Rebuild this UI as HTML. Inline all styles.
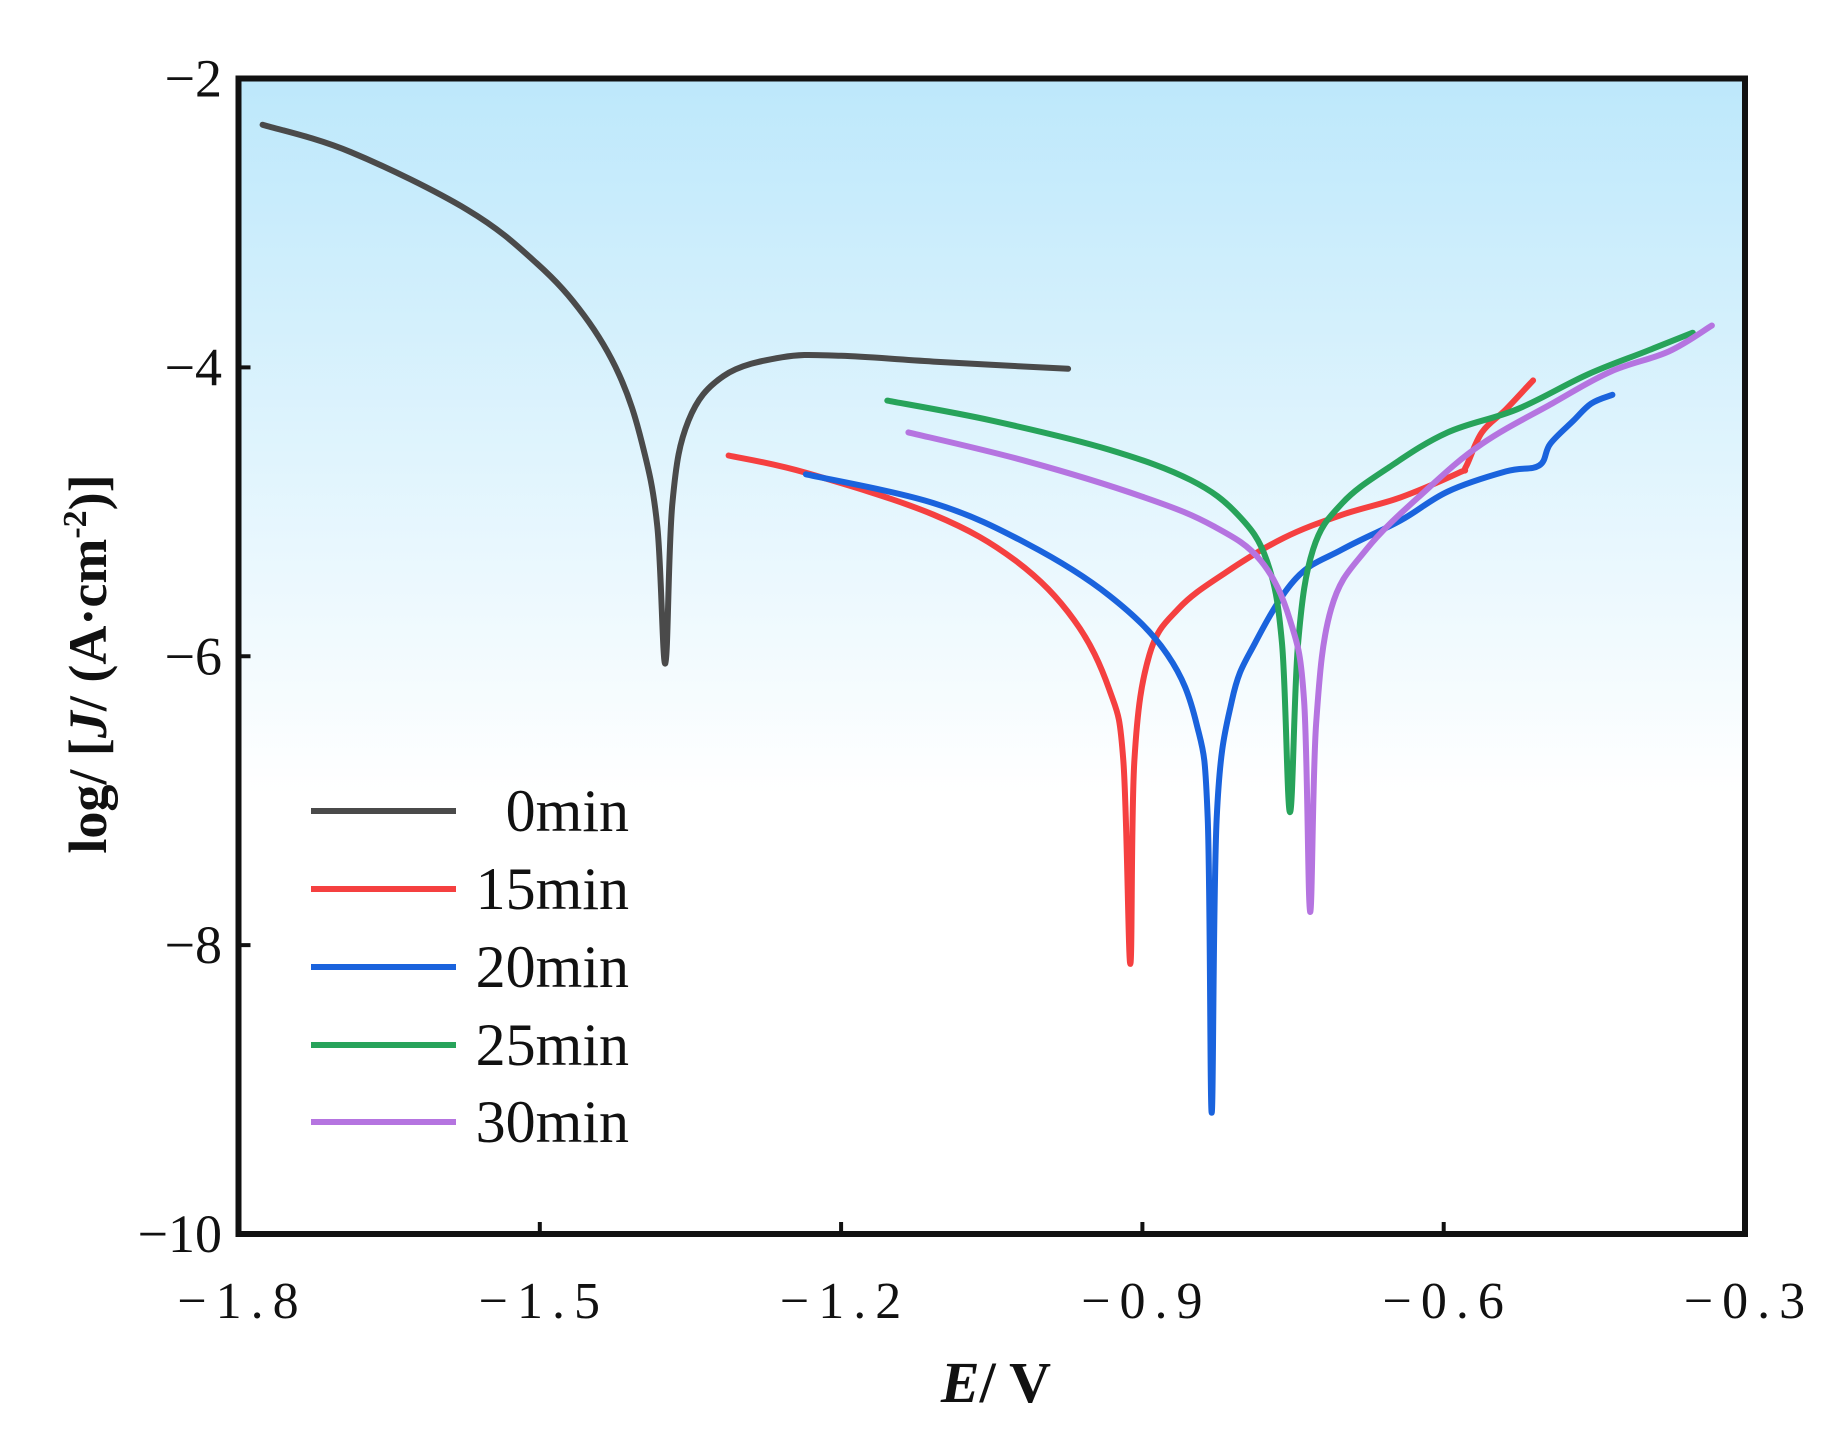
<!DOCTYPE html>
<html><head><meta charset="utf-8"><style>
html,body{margin:0;padding:0;background:#fff;}
svg{display:block;}
text{font-family:"Liberation Serif",serif;fill:#111;}
</style></head><body>
<svg id="chart" width="1833" height="1441" viewBox="0 0 1833 1441" xmlns="http://www.w3.org/2000/svg">
<defs><linearGradient id="bg" x1="0" y1="0" x2="0" y2="1">
<stop offset="0" stop-color="#bde8fb"/><stop offset="0.62" stop-color="#ffffff"/><stop offset="1" stop-color="#ffffff"/></linearGradient></defs>
<rect x="238.5" y="78.5" width="1506.5" height="1155.5" fill="url(#bg)"/>
<g id="series"></g>
<g id="axes"></g>
<rect x="238.5" y="78.5" width="1506.5" height="1155.5" fill="none" stroke="#111" stroke-width="6"/>
<text x="996" y="1402" font-size="58" font-weight="bold" text-anchor="middle"><tspan font-style="italic">E</tspan>/ V</text>
<text transform="translate(106,664) rotate(-90)" font-size="54" font-weight="bold" text-anchor="middle">log/ [<tspan font-style="italic">J</tspan>/ (A·cm<tspan font-size="34" dy="-20">-2</tspan><tspan dy="20">)]</tspan></text>
<g id="legend"></g>
</svg>
<script>
const xTicks=[-1.8,-1.5,-1.2,-0.9,-0.6,-0.3];
const xTickLabels=["−1.8","−1.5","−1.2","−0.9","−0.6","−0.3"];
const yTicks=[-2,-4,-6,-8,-10];
const yTickLabels=["−2","−4","−6","−8","−10"];
const seriesNames=["0min","15min","20min","25min","30min"];
const seriesColors=["#4a4a4a","#f54040","#1a63dd","#27a35a","#b574e0"];
const e0=[-1.776,-1.688,-1.572,-1.503,-1.456,-1.421,-1.398,-1.383,-1.375,-1.368,-1.352,-1.317,-1.259,-1.200,-1.108,-0.974];
const j0=[-2.32,-2.51,-2.91,-3.28,-3.64,-4.05,-4.53,-5.10,-6.05,-4.94,-4.37,-4.06,-3.93,-3.92,-3.96,-4.01];
const e15=[-1.312,-1.235,-1.108,-1.026,-0.968,-0.933,-0.919,-0.912,-0.908,-0.893,-0.864,-0.817,-0.759,-0.701,-0.643,-0.585,-0.578,-0.562,-0.538,-0.511];
const j15=[-4.61,-4.73,-5.02,-5.34,-5.75,-6.23,-6.72,-8.13,-6.72,-5.99,-5.67,-5.42,-5.18,-5.02,-4.90,-4.73,-4.69,-4.45,-4.29,-4.09];
const e20=[-1.235,-1.108,-1.015,-0.933,-0.875,-0.846,-0.835,-0.831,-0.826,-0.811,-0.788,-0.747,-0.701,-0.643,-0.596,-0.538,-0.505,-0.494,-0.471,-0.453,-0.432];
const j20=[-4.74,-4.94,-5.22,-5.58,-5.99,-6.47,-7.12,-9.16,-7.12,-6.31,-5.91,-5.46,-5.26,-5.06,-4.86,-4.72,-4.68,-4.53,-4.37,-4.25,-4.19];
const e25=[-1.154,-1.049,-0.933,-0.852,-0.805,-0.776,-0.761,-0.753,-0.745,-0.730,-0.701,-0.654,-0.596,-0.527,-0.457,-0.399,-0.352];
const j25=[-4.23,-4.37,-4.57,-4.78,-5.02,-5.34,-5.91,-7.08,-5.91,-5.26,-4.94,-4.69,-4.45,-4.29,-4.05,-3.89,-3.76];
const e30=[-1.133,-1.015,-0.898,-0.829,-0.782,-0.753,-0.739,-0.733,-0.727,-0.712,-0.677,-0.619,-0.562,-0.492,-0.434,-0.376,-0.333];
const j30=[-4.45,-4.65,-4.90,-5.10,-5.34,-5.75,-6.31,-7.77,-6.47,-5.67,-5.26,-4.86,-4.53,-4.25,-4.03,-3.89,-3.71];
const seriesE=[e0,e15,e20,e25,e30];
const seriesJ=[j0,j15,j20,j25,j30];

const NS="http://www.w3.org/2000/svg";
const X0=238.5,X1=1745,Y0=78.5,Y1=1234;
const xScale=v=>X0+(v-(-1.8))/1.5*(X1-X0);
const yScale=v=>Y0+(-2-v)/8*(Y1-Y0);
function mk(tag,attrs,parent){const el=document.createElementNS(NS,tag);for(const k in attrs)el.setAttribute(k,attrs[k]);parent.appendChild(el);return el;}
function smoothPath(p){
  const t=0.35;let d='M'+p[0][0].toFixed(1)+','+p[0][1].toFixed(1);
  for(let i=0;i<p.length-1;i++){
    const p0=p[i-1]||p[i],p1=p[i],p2=p[i+1],p3=p[i+2]||p2;
    const c1=[p1[0]+(p2[0]-p0[0])*t/2,p1[1]+(p2[1]-p0[1])*t/2];
    const c2=[p2[0]-(p3[0]-p1[0])*t/2,p2[1]-(p3[1]-p1[1])*t/2];
    d+=' C'+c1[0].toFixed(1)+','+c1[1].toFixed(1)+' '+c2[0].toFixed(1)+','+c2[1].toFixed(1)+' '+p2[0].toFixed(1)+','+p2[1].toFixed(1);
  }
  return d;
}
const axes=document.getElementById('axes');
xTicks.forEach((t,i)=>{
  const tk=mk('line',{x1:xScale(t),x2:xScale(t),y1:Y1,y2:Y1-12,stroke:'#111','stroke-width':4},axes);
  
  
  const lb=mk('text',{x:xScale(t)+4,y:1318,'font-size':52,'text-anchor':'middle','letter-spacing':'9'},axes);
  lb.textContent=xTickLabels[i];
  
  
});
yTicks.forEach((t,i)=>{
  const tk=mk('line',{x1:X0,x2:X0+12,y1:yScale(t),y2:yScale(t),stroke:'#111','stroke-width':4},axes);
  
  
  const lb=mk('text',{x:222,y:yScale(t)+18,'font-size':54,'text-anchor':'end'},axes);
  lb.textContent=yTickLabels[i];
  
  
});
const sg=document.getElementById('series');
seriesE.forEach((es,s)=>{
  const pts=es.map((e,i)=>[xScale(e),yScale(seriesJ[s][i])]);
  const pl=mk('path',{d:smoothPath(pts),fill:'none',stroke:seriesColors[s],'stroke-width':6,'stroke-linejoin':'round','stroke-linecap':'round'},sg);
  
  
});
const lg=document.getElementById('legend');
const legY=[811,889,967,1045,1122];
seriesNames.forEach((n,i)=>{
  const ln=mk('line',{x1:311,x2:456,y1:legY[i],y2:legY[i],stroke:seriesColors[i],'stroke-width':6},lg);
  
  
  const tx=mk('text',{x:629,y:legY[i]+20,'font-size':60,'text-anchor':'end','letter-spacing':'0'},lg);
  tx.textContent=n;
  
  
});
</script>
</body></html>
